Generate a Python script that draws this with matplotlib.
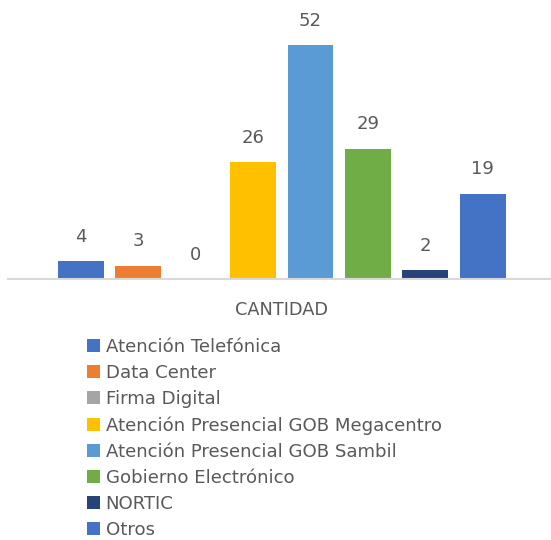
import matplotlib
matplotlib.use("Agg")
import matplotlib.pyplot as plt
from matplotlib.patches import Patch

categories = ["Atención Telefónica", "Data Center", "Firma Digital",
              "Atención Presencial GOB Megacentro", "Atención Presencial GOB Sambil",
              "Gobierno Electrónico", "NORTIC", "Otros"]
values = [4, 3, 0, 26, 52, 29, 2, 19]
colors = ["#4472C4", "#ED7D31", "#A5A5A5", "#FFC000", "#5B9BD5", "#70AD47", "#264478", "#4472C4"]
axis_label = "CANTIDAD"

plt.rcParams['font.family'] = ['DejaVu Sans']
txt = "#595959"

fig = plt.figure(figsize=(5.51, 5.40), dpi=100)
W, H = 551, 540
ax = fig.add_axes([8 / W, 1 - 279 / H, 1 - 8 / W, 279 / H])
x = list(range(len(values)))
bars = ax.bar(x, values, width=0.8, color=colors)
for xi, v in zip(x, values):
    ax.annotate(str(v), (xi, v), xytext=(0, 11), textcoords="offset points",
                ha="center", va="bottom", fontsize=13, color=txt)
ax.set_xlim(-1.27, 8.19)
ax.set_ylim(0, 62)
for s in ["top", "right", "left"]:
    ax.spines[s].set_visible(False)
ax.spines["bottom"].set_color("#D9D9D9")
ax.spines["bottom"].set_linewidth(1.5)
ax.set_xticks([])
ax.set_yticks([])
ax.patch.set_alpha(0)

fig.text(281 / W, 1 - 310 / H, axis_label, ha="center", va="center", fontsize=12.8, color=txt)

handles = [Patch(facecolor=c, edgecolor="none") for c in colors]
leg = fig.legend(handles, categories, loc="upper left", bbox_to_anchor=(87 / W, 1 - 338 / H),
                 frameon=False, fontsize=13.1, labelcolor=txt, handlelength=0.73, handleheight=0.73,
                 handletextpad=0.3, labelspacing=0.44, borderpad=0, borderaxespad=0)

fig.savefig("out.png", dpi=100)
